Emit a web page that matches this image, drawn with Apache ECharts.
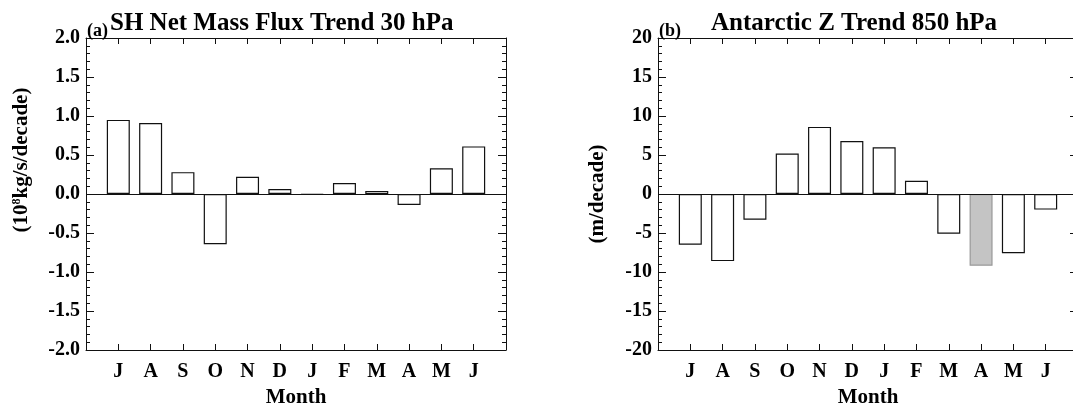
<!DOCTYPE html>
<html>
<head>
<meta charset="utf-8">
<script src="https://cdn.jsdelivr.net/npm/echarts@6/dist/echarts.min.js"></script>
<style>
html,body{margin:0;padding:0;background:#fff;}
#main{width:1073px;height:409px;}
</style>
</head>
<body>
<div id="main"></div>
<script>
var months = ['J','A','S','O','N','D','J','F','M','A','M','J'];
var fluxTrend = [0.95, 0.91, 0.28, -0.645, 0.22, 0.065, -0.01, 0.14, 0.04, -0.14, 0.33, 0.61];
var zTrend = [-6.5, -8.6, -3.3, 5.2, 8.6, 6.8, 6.0, 1.7, -5.1, -9.2, -7.6, -2.0];
var zShaded = [0, 0, 0, 0, 0, 0, 0, 0, 0, 1, 0, 0];

var font = 'Liberation Serif';
var ink = '#111';

function txt(size){
	return {fontFamily: font, fontWeight: 'bold', fontSize: size, color: '#000'};
}

function xAxes(g){
	return [{
		type: 'value', gridIndex: g, min: 0, max: 13, interval: 1, position: 'bottom',
		axisLine: {onZero: false, lineStyle: {color: ink, width: 1}},
		axisTick: {inside: true, length: 6, lineStyle: {color: ink}},
		axisLabel: Object.assign({margin: 12, formatter: function(v){ return months[v - 1] || ''; }}, txt(20)),
		splitLine: {show: false},
		name: 'Month', nameLocation: 'middle', nameGap: 34, nameTextStyle: txt(21)
	}, {
		type: 'value', gridIndex: g, min: 0, max: 13, interval: 1, position: 'top',
		axisLine: {onZero: false, lineStyle: {color: ink, width: 1}},
		axisTick: {inside: true, length: 6, lineStyle: {color: ink}},
		axisLabel: {show: false},
		splitLine: {show: false}
	}];
}

function yAxes(g, lim, step, digits, name, gap, shift){
	var base = {
		type: 'value', gridIndex: g, min: -lim, max: lim, interval: step,
		axisLine: {show: true, onZero: false, lineStyle: {color: ink, width: 1}},
		axisTick: {show: true, inside: true, length: 8, lineStyle: {color: ink}},
		minorTick: {show: true, splitNumber: 5, length: 4, lineStyle: {color: ink}},
		splitLine: {show: false}, minorSplitLine: {show: false}
	};
	var left = Object.assign({}, base, {
		position: 'left',
		axisLabel: Object.assign({margin: 6, formatter: function(v){ return v.toFixed(digits); }}, txt(20)),
		name: name, nameLocation: 'middle', nameGap: gap, nameRotate: 90,
		nameTextStyle: Object.assign({padding: [0, 0, 0, shift], rich: {
			sup: {fontFamily: font, fontWeight: 'bold', fontSize: 12, verticalAlign: 'top', color: '#000'}
		}}, txt(21))
	});
	var right = Object.assign({}, base, {position: 'right', axisLabel: {show: false}});
	return [left, right];
}

function pairs(vals){
	var out = [];
	for (var i = 0; i < vals.length; i++) out.push([i + 1, vals[i]]);
	return out;
}

var zeroLine = {
	silent: true, symbol: 'none', label: {show: false},
	lineStyle: {color: ink, type: 'solid', width: 1},
	data: [{yAxis: 0}]
};

var zData = pairs(zTrend).map(function(p, i){
	if (zShaded[i]) return {value: p, itemStyle: {color: '#c4c4c4', borderColor: '#999'}};
	return p;
});

var myChart = echarts.init(document.getElementById('main'));
var option = {
	animation: false,
	backgroundColor: '#fff',
	title: [
		{text: '(a)', left: 87, top: 22, padding: 0, textStyle: txt(18)},
		{text: 'SH Net Mass Flux Trend 30 hPa', left: 110, top: 11, padding: 0, textStyle: txt(25)},
		{text: '(b)', left: 659, top: 22, padding: 0, textStyle: txt(18)},
		{text: 'Antarctic Z Trend 850 hPa', left: 711, top: 11, padding: 0, textStyle: txt(25)}
	],
	grid: [
		{left: 86, top: 38, width: 420, height: 312, outerBoundsMode: 'none'},
		{left: 658, top: 38, width: 420, height: 312, outerBoundsMode: 'none'}
	],
	xAxis: xAxes(0).concat(xAxes(1)),
	yAxis: yAxes(0, 2, 0.5, 1, '(10{sup|8}kg/s/decade)', 54, 68)
		.concat(yAxes(1, 20, 5, 0, '(m/decade)', 50, 0)),
	series: [{
		type: 'bar', xAxisIndex: 0, yAxisIndex: 0, barWidth: 23,
		itemStyle: {color: '#fff', borderColor: ink, borderWidth: 1.2},
		data: pairs(fluxTrend), markLine: zeroLine
	}, {
		type: 'bar', xAxisIndex: 2, yAxisIndex: 2, barWidth: 23,
		itemStyle: {color: '#fff', borderColor: ink, borderWidth: 1.2},
		data: zData, markLine: zeroLine
	}]
};
myChart.setOption(option);
</script>
</body>
</html>
